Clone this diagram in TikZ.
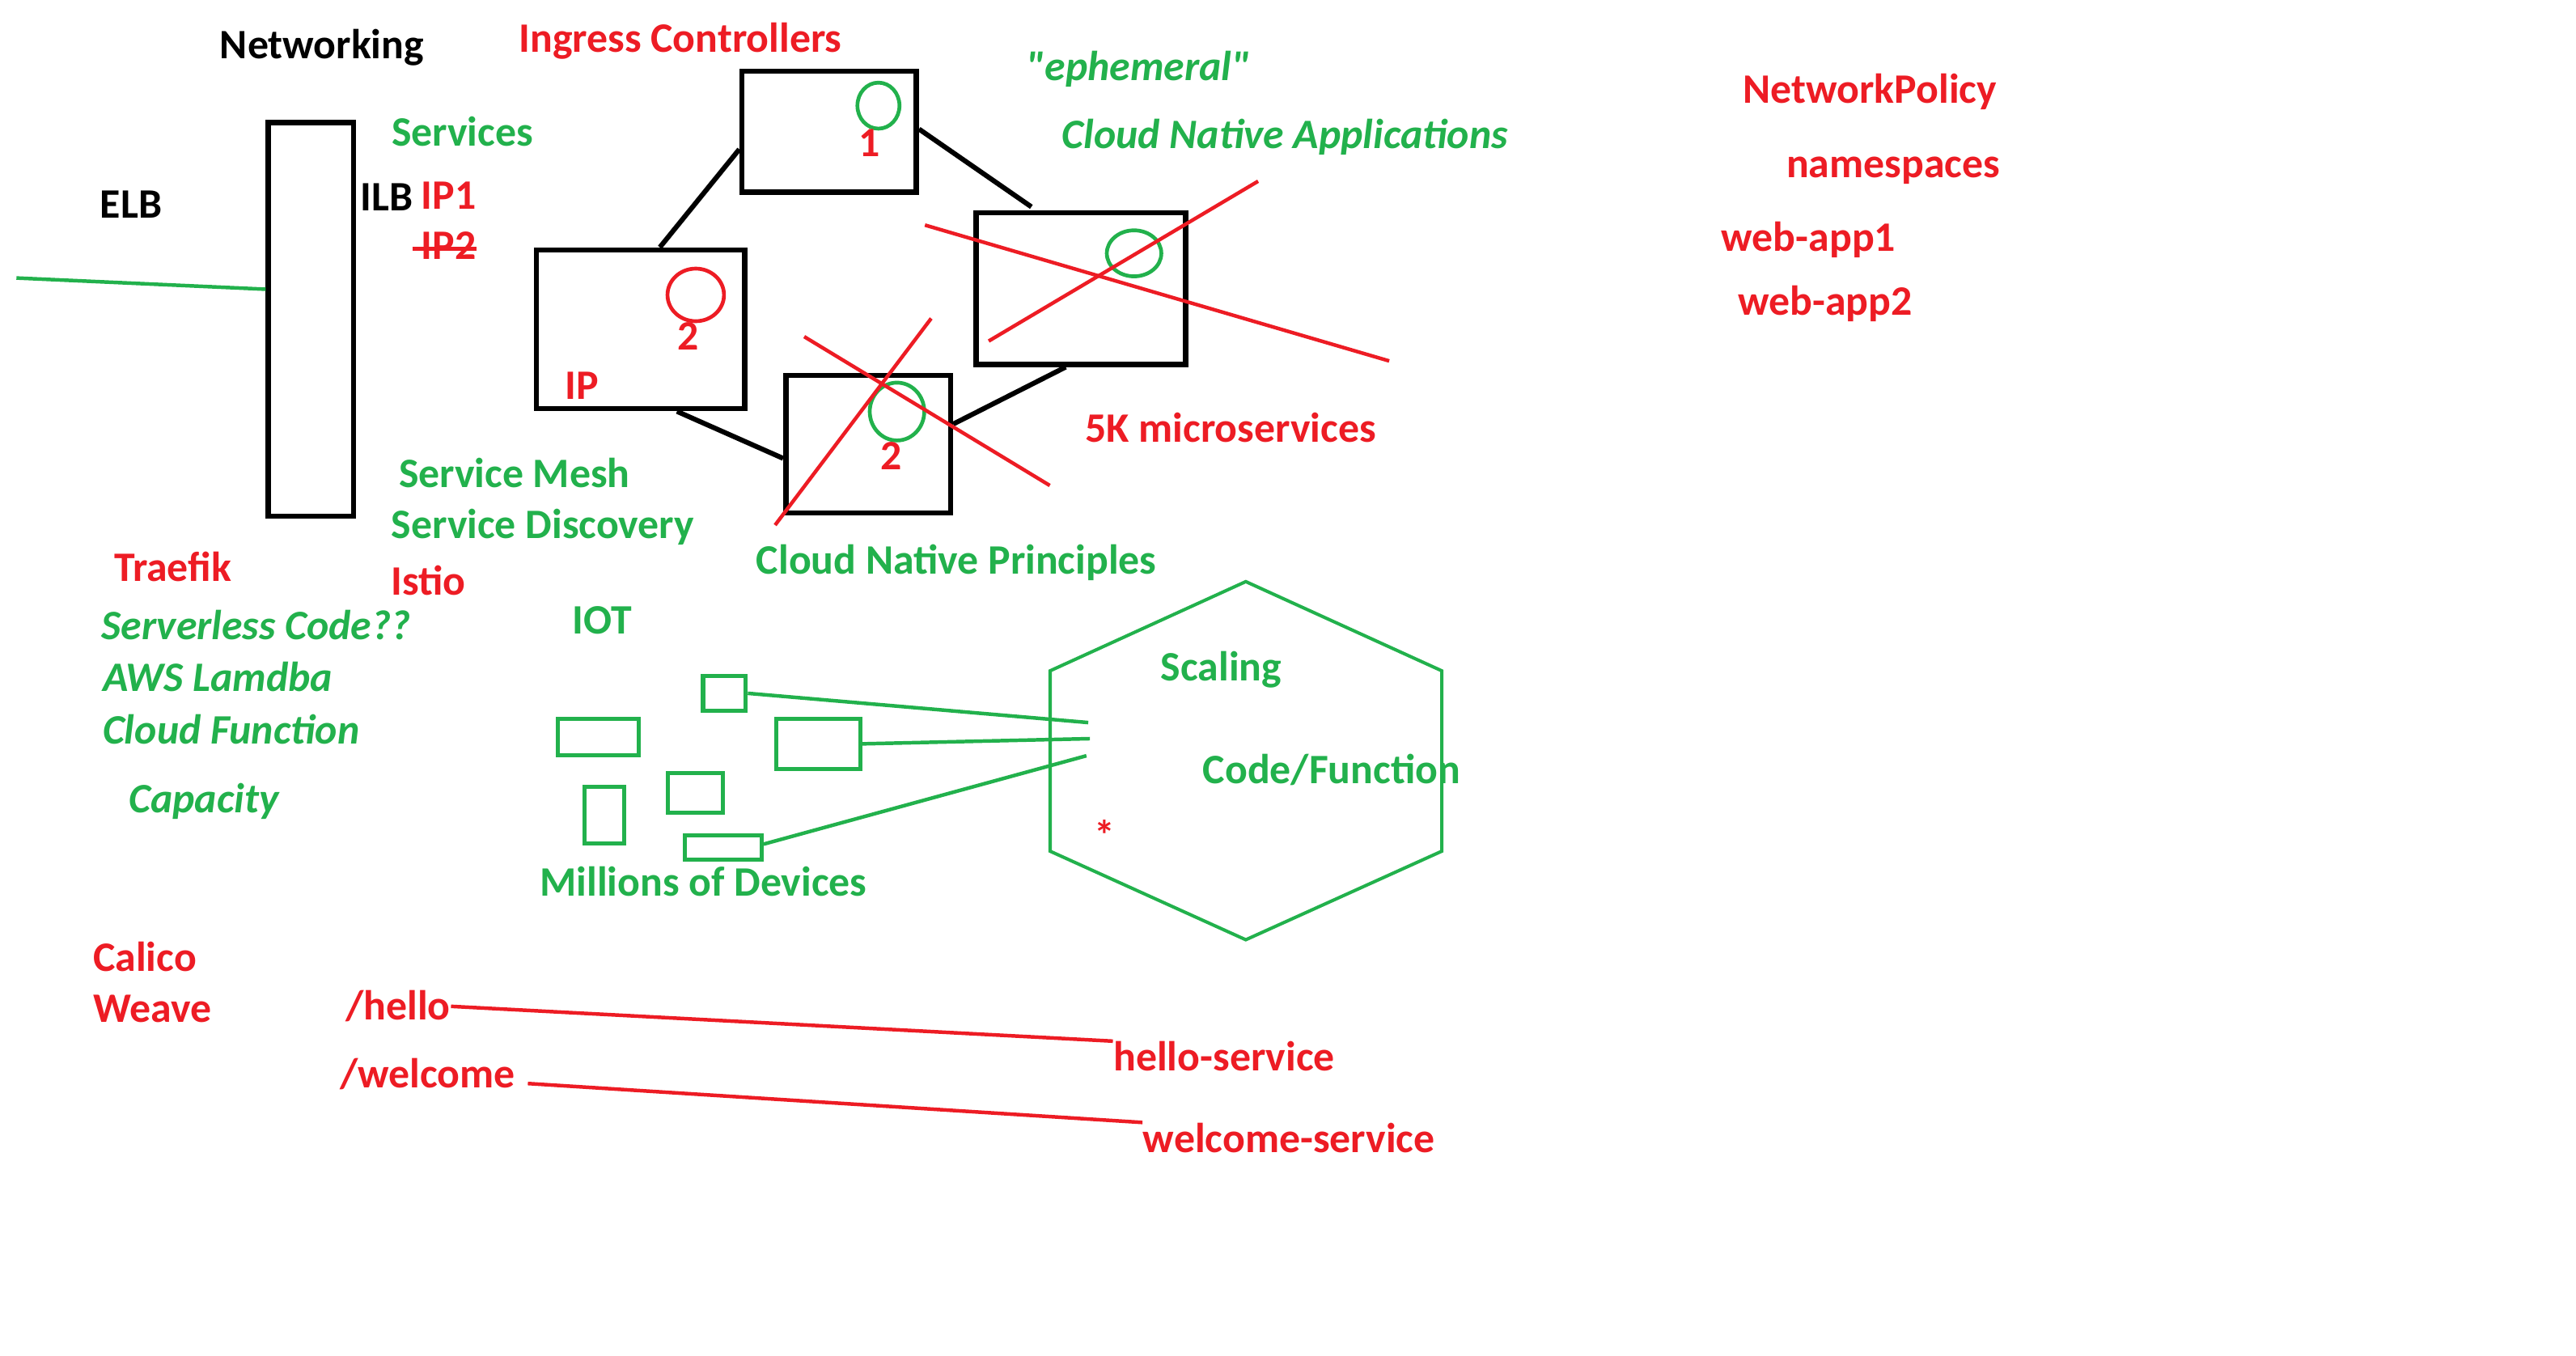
\documentclass[tikz,border=0pt]{standalone}
\usepackage{fontspec}
\setmainfont{Carlito}
\newfontfamily\plainfont{Carlito}
\usetikzlibrary{calc}
\definecolor{pred}{HTML}{ED1C24}
\definecolor{pgreen}{HTML}{22B14C}
\begin{document}
\begin{tikzpicture}[x=0.5pt,y=-0.5pt,
  lbl/.style={inner sep=0pt, anchor=base west, font=\fontsize{12.75pt}{15pt}\selectfont\bfseries},
  blk/.style={lbl,text=black},
  rd/.style={lbl,text=pred},
  gr/.style={lbl,text=pgreen},
  gri/.style={gr,font=\fontsize{12.75pt}{15pt}\selectfont\bfseries\itshape},
  pod/.style={draw=black,line width=1.6pt,inner sep=0pt,anchor=north west},
  dev/.style={draw=pgreen,line width=1.3pt,inner sep=0pt,anchor=north west},
  link/.style={draw=black,line width=1.5pt},
  redline/.style={draw=pred,line width=1.1pt},
  greenline/.style={draw=pgreen,line width=1.1pt},
]
\useasboundingbox (0,0) rectangle (1568,825);
\fill[white] (0,0) rectangle (1568,825);

\begin{scope}[shift={(0,1)}]
% load balancer column
\node[pod,minimum width=25.95pt,minimum height=119.8pt] (lb) at (161.7,72.1) {};
\coordinate (elbend) at (10,168.2);
\draw[greenline] (elbend) -- ($(lb.north west)!0.424!(lb.south west)$);

% pods
\node[pod,minimum width=53.1pt,minimum height=36.8pt] (b1) at (450,40.7) {};
\node[pod,minimum width=63.45pt,minimum height=48.35pt] (b2) at (324.9,149.5) {};
\node[pod,minimum width=63.75pt,minimum height=46.15pt] (b3) at (592.5,126.9) {};
\node[pod,minimum width=50.15pt,minimum height=41.9pt] (b4) at (476.7,225.8) {};

\draw[link] ($(b1.north west)!0.64!(b1.south west)$) -- ($(b2.north west)!0.59!(b2.north east)$);
\draw[link] ($(b1.north east)!0.48!(b1.south east)$) -- ([yshift=1pt]$(b3.north west)!0.27!(b3.north east)$);
\draw[link] ($(b2.south west)!0.67!(b2.south east)$) -- ($(b4.north west)!0.6!(b4.south west)$);
\draw[link] ($(b3.south west)!0.43!(b3.south east)$) -- ($(b4.north east)!0.36!(b4.south east)$);

% circles in pods
\draw[pgreen,line width=1.15pt] (534.7,63.3) ellipse [x radius=6.4pt, y radius=7pt];
\draw[pred,line width=1.15pt] (423.5,178.5) ellipse [x radius=8.6pt, y radius=8pt];
\draw[pgreen,line width=1.15pt] (690.3,153.2) ellipse [x radius=8.3pt, y radius=7pt];
\draw[pgreen,line width=1.15pt] (546,249.5) ellipse [x radius=8.3pt, y radius=8.8pt];

\node[rd] (n1) at (522.5,94.5) {1};
\node[rd] (n2) at (412,212.2) {2};
\node[rd] (nip) at (343.8,241.8) {IP};
\node[rd] (n4) at (535.8,284.7) {2};

% red crosses
\draw[redline] (563,136) -- (845.6,218.7);
\draw[redline] (601.8,206.6) -- (765.8,109.3);
\draw[redline] (489.5,203.9) -- (639,294.5);
\draw[redline] (566.8,192.8) -- (471.8,318.6);

% top labels
\node[blk] (networking) at (133.5,34.7) {Networking};
\node[rd] (ingress) at (315.5,30.8) {Ingress Controllers};
\node[gr] (services) at (238,88) {Services};
\node[blk] (elb) at (60.6,131.5) {ELB};
\node[blk] (ilb) at (219.2,127.5) {ILB};
\node[rd] (ip1) at (256,126.4) {IP1};
\node[rd] (ip2) at (256,157) {IP2};
\draw[redline] ([xshift=-2.5pt,yshift=3.3pt]ip2.base west) -- ([yshift=3.3pt]ip2.base east);
\node[gri,font=\plainfont\fontsize{12.75pt}{15pt}\selectfont\bfseries\itshape] (ephemeral) at (624.5,47.9) {"ephemeral"};
\node[gri] (cna) at (646,89.5) {Cloud Native Applications};
\node[rd] (fivek) at (660.2,268.2) {5K microservices};
\node[gr] (mesh) at (242.4,295.7) {Service Mesh};
\node[gr] (disc) at (237.8,326.5) {Service Discovery};
\node[gr] (cnp) at (460,348.2) {Cloud Native Principles};

% left column
\node[rd] (traefik) at (69.1,352.7) {Traefik};
\node[rd] (istio) at (237.7,361) {Istio};
\node[gri] (serverless) at (61.5,388.5) {Serverless Code??};
\node[gri] (lambda) at (62.2,420) {AWS Lamdba};
\node[gri] (cloudfn) at (62.2,452) {Cloud Function};
\node[gri] (capacity) at (78,493.5) {Capacity};

% IOT
\node[gr] (iot) at (347.9,385) {IOT};
\node[dev,minimum width=12.95pt,minimum height=10.5pt] (da) at (426.7,409.2) {};
\node[dev,minimum width=24.7pt,minimum height=11.1pt] (db) at (338.2,435.3) {};
\node[dev,minimum width=25.55pt,minimum height=15.15pt] (dc) at (471.3,435.3) {};
\node[dev,minimum width=16.75pt,minimum height=11.95pt] (dd) at (405.3,468.3) {};
\node[dev,minimum width=12.1pt,minimum height=17.15pt] (de) at (354.5,476.7) {};
\node[dev,minimum width=23.3pt,minimum height=7.5pt] (df) at (415.6,506) {};
\node[gr] (millions) at (328.2,544.5) {Millions of Devices};

% hexagon
\draw[pgreen,line width=1pt] (758.3,353) -- (877.6,407.3) -- (877.6,517.1) -- (758.3,571) -- (639.2,517.1) -- (639.2,407.3) -- cycle;
\coordinate (h1) at (662.4,438.8);
\coordinate (h2) at (663.4,448.6);
\coordinate (h3) at (661.3,459);
\draw[greenline] (da.east) -- (h1);
\draw[greenline] (dc.east) -- (h2);
\draw[greenline] ([yshift=1pt]df.east) -- (h3);
\node[gr] (scaling) at (706.2,413.5) {Scaling};
\node[gr] (codefn) at (731.8,475.7) {Code/Function};
\node[rd] (star) at (665.5,516.5) {*};

% bottom
\node[rd] (calico) at (56.3,590.2) {Calico};
\node[rd] (weave) at (56.3,621) {Weave};
\node[rd] (hello) at (210,619.9) {/hello};
\node[rd] (welcome) at (206.6,661) {/welcome};
\node[rd] (hellosvc) at (677.4,651) {hello-service};
\node[rd] (welcomesvc) at (695.4,700.5) {welcome-service};
\draw[redline] (hello.east) -- (hellosvc.north west);
\coordinate (wstart) at (321.3,658.5);
\draw[redline] (wstart) -- (welcomesvc.north west);

% right
\node[rd] (netpol) at (1060.7,62) {NetworkPolicy};
\node[rd] (ns) at (1087,107) {namespaces};
\node[rd] (wa1) at (1047.4,152) {web-app1};
\node[rd] (wa2) at (1057.5,191) {web-app2};
\end{scope}
\end{tikzpicture}
\end{document}
